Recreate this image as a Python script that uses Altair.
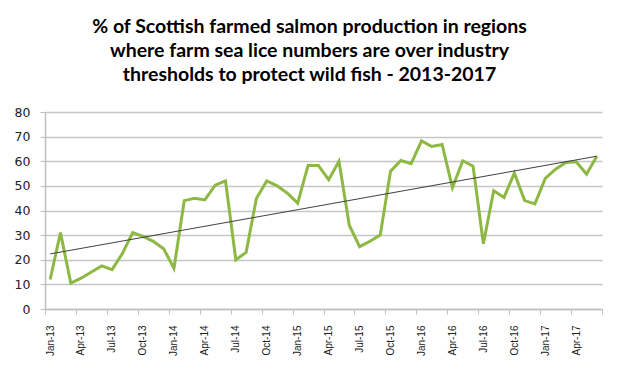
import json
import altair as alt
import pandas as pd

# monthly values, Jan-13 .. Jun-17
months = ["Jan-13","Feb-13","Mar-13","Apr-13","May-13","Jun-13","Jul-13","Aug-13","Sep-13","Oct-13","Nov-13","Dec-13",
          "Jan-14","Feb-14","Mar-14","Apr-14","May-14","Jun-14","Jul-14","Aug-14","Sep-14","Oct-14","Nov-14","Dec-14",
          "Jan-15","Feb-15","Mar-15","Apr-15","May-15","Jun-15","Jul-15","Aug-15","Sep-15","Oct-15","Nov-15","Dec-15",
          "Jan-16","Feb-16","Mar-16","Apr-16","May-16","Jun-16","Jul-16","Aug-16","Sep-16","Oct-16","Nov-16","Dec-16",
          "Jan-17","Feb-17","Mar-17","Apr-17","May-17","Jun-17"]
values = [12, 31, 10.5, 12.5, 15, 17.5, 16, 22.5, 31, 29.5, 27.5, 24.5,
          16.5, 44, 45, 44.3, 50.3, 52, 20, 23, 45, 52, 50, 47,
          43, 58.3, 58.3, 52.5, 60, 34, 25.3, 27.5, 30, 56, 60.3, 59,
          68.3, 66, 66.8, 49.3, 60.2, 58, 26.5, 48, 45.3, 55.2, 44, 42.7,
          53, 56.8, 59.5, 59.8, 54.8, 62]
tick_labels = ["Jan-13","Apr-13","Jul-13","Oct-13","Jan-14","Apr-14","Jul-14","Oct-14","Jan-15",
               "Apr-15","Jul-15","Oct-15","Jan-16","Apr-16","Jul-16","Oct-16","Jan-17","Apr-17"]
y_ticks = [0, 10, 20, 30, 40, 50, 60, 70, 80]

df = pd.DataFrame({"month": months, "value": values})
df["x"] = [i + 0.5 for i in range(len(months))]

n = len(months)
x_tick_vals = list(range(0, n + 1, 3))
label_expr = json.dumps(tick_labels) + "[round(datum.value/3)] || ''"

x_enc = alt.X("x:Q", scale=alt.Scale(domain=[0, n], nice=False, zero=False),
              axis=alt.Axis(values=x_tick_vals, tickCount=len(x_tick_vals) + 5, labelExpr=label_expr,
                            title=None, grid=False,
                            labelAngle=270, labelAlign="right", labelBaseline="middle",
                            labelOffset=5, labelPadding=11, tickSize=5, tickColor="#bfbfbf",
                            domainColor="#bfbfbf", domainWidth=1.5, labelFont="Liberation Sans",
                            labelFontSize=10, labelColor="#222222", labelOverlap=False))
y_enc = alt.Y("value:Q", scale=alt.Scale(domain=[0, 80], nice=False),
              axis=alt.Axis(values=y_ticks, tickCount=len(y_ticks) + 5, title=None, grid=True,
                            gridColor="#c6c6c6", gridWidth=1.5,
                            tickSize=5, tickColor="#bfbfbf", domainColor="#bfbfbf", domainWidth=1.5,
                            labelPadding=10, labelFont="DejaVu Sans", labelFontSize=12.5,
                            labelColor="#222222", labelOverlap=False))

line = alt.Chart(df).mark_line(color="#8db843", strokeWidth=3, strokeJoin="miter").encode(x=x_enc, y=y_enc)
trend = alt.Chart(df).transform_regression("x", "value").mark_line(color="#404040", strokeWidth=1).encode(
    x="x:Q", y="value:Q")

chart = alt.layer(line, trend).properties(
    width=557, height=197,
    autosize=alt.AutoSizeParams(type="none"),
    padding={"left": 37, "top": 104, "right": 10, "bottom": 60},
    title=alt.TitleParams(
        text=["% of Scottish farmed salmon production in regions",
              "where farm sea lice numbers are over industry",
              "thresholds to protect wild fish - 2013-2017"],
        anchor="middle", font="Lato", fontSize=19.5, fontWeight="bold", color="#000000",
        lineHeight=24, offset=21, dx=-14),
).configure_view(stroke=None)

chart.save("out.html", embed_options={"renderer": "svg", "actions": False})
